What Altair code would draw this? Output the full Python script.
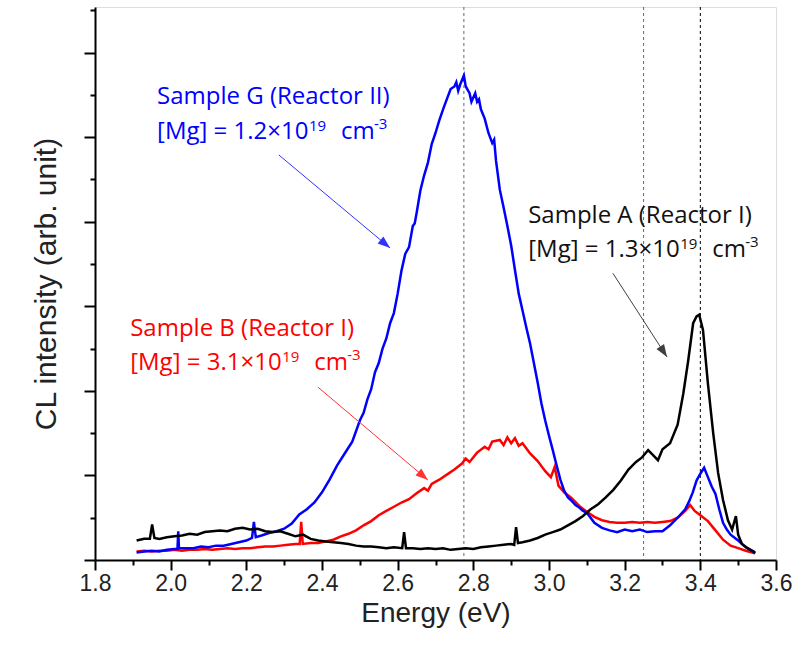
import altair as alt
import pandas as pd
import math

# ---------------- data ----------------
E_G = [1.91,1.93,1.95,1.97,1.99,2.01,2.018,2.02,2.022,2.04,2.06,2.08,2.10,2.12,2.14,2.16,2.18,2.20,2.215,2.22,2.225,
       2.24,2.26,2.28,2.30,2.32,2.34,2.36,2.38,2.40,2.42,2.44,2.46,2.48,2.50,2.51,2.52,2.53,2.54,2.55,2.56,2.57,2.58,2.59,
       2.60,2.61,2.62,2.63,2.64,2.645,2.65,2.66,2.67,2.68,2.69,2.70,2.71,2.72,2.73,2.74,2.75,2.755,2.76,2.765,2.775,
       2.78,2.79,2.795,2.805,2.81,2.815,2.82,2.83,2.84,2.85,2.855,2.86,2.87,2.88,2.89,2.90,2.91,2.92,2.93,2.94,2.95,
       2.96,2.97,2.98,2.99,3.00,3.01,3.02,3.03,3.04,3.05,3.06,3.07,3.08,3.09,3.10,3.12,3.14,3.16,3.18,3.20,3.22,3.24,
       3.26,3.28,3.30,3.32,3.34,3.36,3.37,3.38,3.39,3.40,3.41,3.42,3.43,3.44,3.45,3.46,3.47,3.48,3.50,3.52,3.545]
I_G = [0.09,0.10,0.11,0.10,0.12,0.13,0.13,0.34,0.14,0.14,0.14,0.16,0.15,0.17,0.17,0.19,0.21,0.23,0.26,0.45,0.27,
       0.29,0.32,0.34,0.37,0.43,0.54,0.60,0.68,0.80,0.95,1.12,1.26,1.40,1.65,1.74,1.90,2.02,2.22,2.33,2.50,2.62,2.80,2.92,
       3.15,3.42,3.62,3.70,3.95,3.98,4.10,4.37,4.55,4.70,4.92,5.05,5.20,5.33,5.45,5.57,5.60,5.65,5.55,5.62,5.73,
       5.60,5.52,5.42,5.52,5.42,5.45,5.33,5.22,5.05,4.93,4.97,4.72,4.38,4.17,3.95,3.72,3.43,3.15,2.95,2.75,2.56,
       2.33,2.10,1.85,1.65,1.47,1.30,1.12,0.95,0.82,0.74,0.70,0.65,0.62,0.58,0.56,0.44,0.38,0.35,0.33,0.36,0.34,0.36,
       0.33,0.34,0.34,0.41,0.50,0.60,0.69,0.80,0.94,1.02,1.09,0.98,0.87,0.78,0.60,0.44,0.36,0.30,0.23,0.15,0.08]

E_A = [1.91,1.93,1.945,1.951,1.957,1.97,1.99,2.01,2.03,2.05,2.07,2.09,2.11,2.13,2.15,2.17,2.19,2.21,2.23,2.25,2.27,
       2.29,2.31,2.33,2.35,2.37,2.39,2.41,2.43,2.45,2.47,2.49,2.51,2.53,2.55,2.57,2.59,2.612,2.617,2.622,2.64,2.66,
       2.68,2.70,2.72,2.74,2.76,2.78,2.80,2.82,2.84,2.86,2.88,2.90,2.908,2.913,2.918,2.93,2.95,2.97,2.99,3.01,3.03,
       3.05,3.07,3.09,3.11,3.13,3.15,3.17,3.19,3.21,3.23,3.245,3.262,3.275,3.288,3.30,3.32,3.34,3.355,3.368,3.381,
       3.39,3.397,3.407,3.42,3.434,3.447,3.46,3.473,3.484,3.494,3.50,3.51,3.525,3.545]
I_A = [0.23,0.25,0.25,0.42,0.26,0.25,0.27,0.28,0.29,0.31,0.30,0.33,0.34,0.35,0.34,0.37,0.38,0.36,0.37,0.34,0.33,
       0.34,0.31,0.28,0.30,0.25,0.23,0.22,0.21,0.20,0.19,0.17,0.16,0.16,0.15,0.14,0.15,0.14,0.33,0.14,0.14,0.13,
       0.14,0.13,0.14,0.12,0.13,0.14,0.13,0.15,0.16,0.17,0.18,0.19,0.18,0.39,0.20,0.21,0.23,0.26,0.30,0.33,0.36,
       0.41,0.46,0.52,0.60,0.66,0.74,0.83,0.94,1.07,1.16,1.21,1.30,1.24,1.18,1.31,1.38,1.60,1.97,2.36,2.80,
       2.88,2.90,2.72,2.09,1.50,1.03,0.71,0.47,0.36,0.52,0.30,0.19,0.14,0.09]

E_B = [1.91,1.93,1.95,1.97,1.99,2.01,2.03,2.05,2.07,2.09,2.11,2.13,2.15,2.17,2.19,2.21,2.23,2.25,2.27,2.29,2.31,
       2.33,2.341,2.345,2.349,2.37,2.39,2.41,2.43,2.45,2.47,2.49,2.51,2.53,2.55,2.57,2.59,2.61,2.63,2.65,2.67,2.68,2.69,
       2.71,2.73,2.75,2.77,2.78,2.79,2.81,2.83,2.84,2.85,2.87,2.88,2.89,2.90,2.91,2.92,2.93,2.95,2.97,2.99,3.005,3.015,
       3.025,3.04,3.06,3.08,3.10,3.12,3.14,3.16,3.18,3.20,3.22,3.24,3.26,3.28,3.30,3.32,3.34,3.36,3.373,3.385,3.40,
       3.42,3.44,3.46,3.48,3.50,3.52,3.545]
I_B = [0.10,0.11,0.10,0.11,0.11,0.12,0.11,0.12,0.12,0.13,0.12,0.13,0.14,0.13,0.14,0.14,0.15,0.16,0.16,0.17,0.18,
       0.19,0.19,0.45,0.19,0.20,0.20,0.22,0.24,0.28,0.31,0.35,0.41,0.46,0.53,0.58,0.63,0.68,0.72,0.79,0.85,0.82,0.90,
       0.95,1.01,1.07,1.14,1.20,1.16,1.27,1.34,1.31,1.40,1.42,1.36,1.45,1.38,1.44,1.35,1.38,1.26,1.17,1.05,0.98,1.10,
       0.88,0.80,0.73,0.64,0.57,0.51,0.47,0.45,0.44,0.44,0.45,0.44,0.45,0.44,0.45,0.46,0.50,0.58,0.65,0.58,0.53,
       0.46,0.35,0.24,0.17,0.14,0.11,0.08]

x_major = [1.8, 2.0, 2.2, 2.4, 2.6, 2.8, 3.0, 3.2, 3.4, 3.6]
x_minor = [1.9, 2.1, 2.3, 2.5, 2.7, 2.9, 3.1, 3.3, 3.5]
y_major = [0, 1, 2, 3, 4, 5, 6]
y_minor = [0.5, 1.5, 2.5, 3.5, 4.5, 5.5, 6.5]

vline_E = [2.775, 3.25, 3.4]
vline_color = ["#666666", "#666666", "#000000"]

# annotation arrows (start E, start I, end E, end I)
arrow_color = ["#3333ff", "#ff3333", "#404040"]
arrow_x = [2.286, 2.389, 3.169]
arrow_y = [4.79, 2.045, 3.39]
arrow_x2 = [2.580, 2.680, 3.312]
arrow_y2 = [3.69, 0.946, 2.40]

# annotation labels
ann_title = ["Sample G (Reactor II)", "Sample B (Reactor I)", "Sample A (Reactor I)"]
ann_conc = ["[Mg] = 1.2×10", "[Mg] = 3.1×10", "[Mg] = 1.3×10"]
ann_exp = ["19", "19", "19"]
ann_unit = ["cm", "cm", "cm"]
ann_uexp = ["-3", "-3", "-3"]
ann_color = ["#0000ff", "#ff0000", "#111111"]
ann_E = [1.964, 1.893, 2.945]
ann_I1 = [5.39, 2.648, 3.983]
ann_I2 = [4.976, 2.246, 3.582]

X_DOM = [1.8, 3.6]
Y_DOM = [0, 6.54]
W, H = 681, 553
px_per_E = W / (X_DOM[1] - X_DOM[0])
px_per_I = H / (Y_DOM[1] - Y_DOM[0])

xs = alt.Scale(domain=X_DOM, nice=False, zero=False)
ys = alt.Scale(domain=Y_DOM, nice=False, zero=False)
FONT_AX = "Liberation Sans"

def line_layer(E, I, color, axes=None):
    df = pd.DataFrame({"E": E, "I": I})
    if axes == "major":
        xax = alt.Axis(values=x_major, format=".1f", tickSize=10, tickWidth=2, tickColor="black",
                       domainColor="black", domainWidth=2, labelFont=FONT_AX, labelFontSize=23,
                       labelColor="#222222", labelPadding=2, title="Energy (eV)", titleFont=FONT_AX,
                       titleFontSize=28, titleFontWeight="normal", titleColor="#222222", titlePadding=4,
                       grid=False, orient="bottom", labelFlush=False, labelOverlap=False)
        yax = alt.Axis(values=y_major, labels=False, tickSize=11, tickWidth=2, tickColor="black",
                       domainColor="black", domainWidth=2, title="CL intensity (arb. unit)",
                       titleFont=FONT_AX, titleFontSize=30, titleFontWeight="normal",
                       titleColor="#222222", titlePadding=22, grid=False, orient="left")
    elif axes == "minor":
        xax = alt.Axis(values=x_minor, labels=False, tickSize=5, tickWidth=2, tickColor="black",
                       domain=False, title=None, grid=False, orient="bottom")
        yax = alt.Axis(values=y_minor, labels=False, tickSize=5, tickWidth=2, tickColor="black",
                       domain=False, title=None, grid=False, orient="left")
    else:
        xax = None
        yax = None
    return alt.Chart(df).mark_line(color=color, strokeWidth=2.5).encode(
        x=alt.X("E:Q", scale=xs, axis=xax),
        y=alt.Y("I:Q", scale=ys, axis=yax),
    )

vdf = pd.DataFrame({"E": vline_E, "c": vline_color})
vlines = alt.Chart(vdf).mark_rule(strokeWidth=1, strokeDash=[3, 3]).encode(
    x=alt.X("E:Q", scale=xs, axis=None),
    color=alt.Color("c:N", scale=None, legend=None),
)

adf = pd.DataFrame({"x": arrow_x, "y": arrow_y, "x2": arrow_x2, "y2": arrow_y2, "c": arrow_color})
adf["ang"] = [
    (math.degrees(math.atan2((b - a) * px_per_E, (d - c) * px_per_I)) + 360) % 360
    for a, b, c, d in zip(adf["x"], adf["x2"], adf["y"], adf["y2"])
]
arrow_lines = alt.Chart(adf).mark_rule(strokeWidth=1).encode(
    x=alt.X("x:Q", scale=xs, axis=None), y=alt.Y("y:Q", scale=ys, axis=None),
    x2="x2:Q", y2="y2:Q",
    color=alt.Color("c:N", scale=None, legend=None),
)
arrow_heads = alt.Chart(adf).mark_point(
    shape="M0,0 L0.45,1.25 L-0.45,1.25 Z", filled=True, size=400, opacity=1, strokeWidth=0
).encode(
    x=alt.X("x2:Q", scale=xs, axis=None), y=alt.Y("y2:Q", scale=ys, axis=None),
    angle=alt.Angle("ang:Q", scale=None),
    color=alt.Color("c:N", scale=None, legend=None),
)

# text rows: main lines plus superscripts offset in pixels from the line-2 start
MAIN, SUP = 24, 15
rows = []
for i in range(3):
    E0 = ann_E[i]
    rows.append((ann_title[i], E0, ann_I1[i], MAIN, ann_color[i]))
    rows.append((ann_conc[i], E0, ann_I2[i], MAIN, ann_color[i]))
    rows.append((ann_exp[i], E0 + 152 / px_per_E, ann_I2[i] + 8 / px_per_I, SUP, ann_color[i]))
    rows.append((ann_unit[i], E0 + 184 / px_per_E, ann_I2[i], MAIN, ann_color[i]))
    rows.append((ann_uexp[i], E0 + 217 / px_per_E, ann_I2[i] + 10 / px_per_I, SUP, ann_color[i]))
tdf = pd.DataFrame(rows, columns=["t", "E", "I", "s", "c"])
texts = alt.Chart(tdf).mark_text(align="left", baseline="alphabetic", font="Open Sans").encode(
    x=alt.X("E:Q", scale=xs, axis=None), y=alt.Y("I:Q", scale=ys, axis=None),
    text="t:N",
    size=alt.Size("s:Q", scale=None, legend=None),
    color=alt.Color("c:N", scale=None, legend=None),
)

chart = alt.layer(
    vlines,
    line_layer(E_B, I_B, "#ff0000", "major"),
    line_layer(E_G, I_G, "#0000ff"),
    line_layer(E_A, I_A, "#000000", "minor"),
    arrow_lines, arrow_heads, texts,
).resolve_axis(x="independent", y="independent").properties(
    width=W, height=H,
    autosize=alt.AutoSizeParams(type="none"),
    padding={"left": 95, "top": 7, "right": 17, "bottom": 89},
).configure_view(stroke="black", strokeWidth=2).configure(background="white")

chart.save("out.html", embed_options={"renderer": "svg", "actions": False})
